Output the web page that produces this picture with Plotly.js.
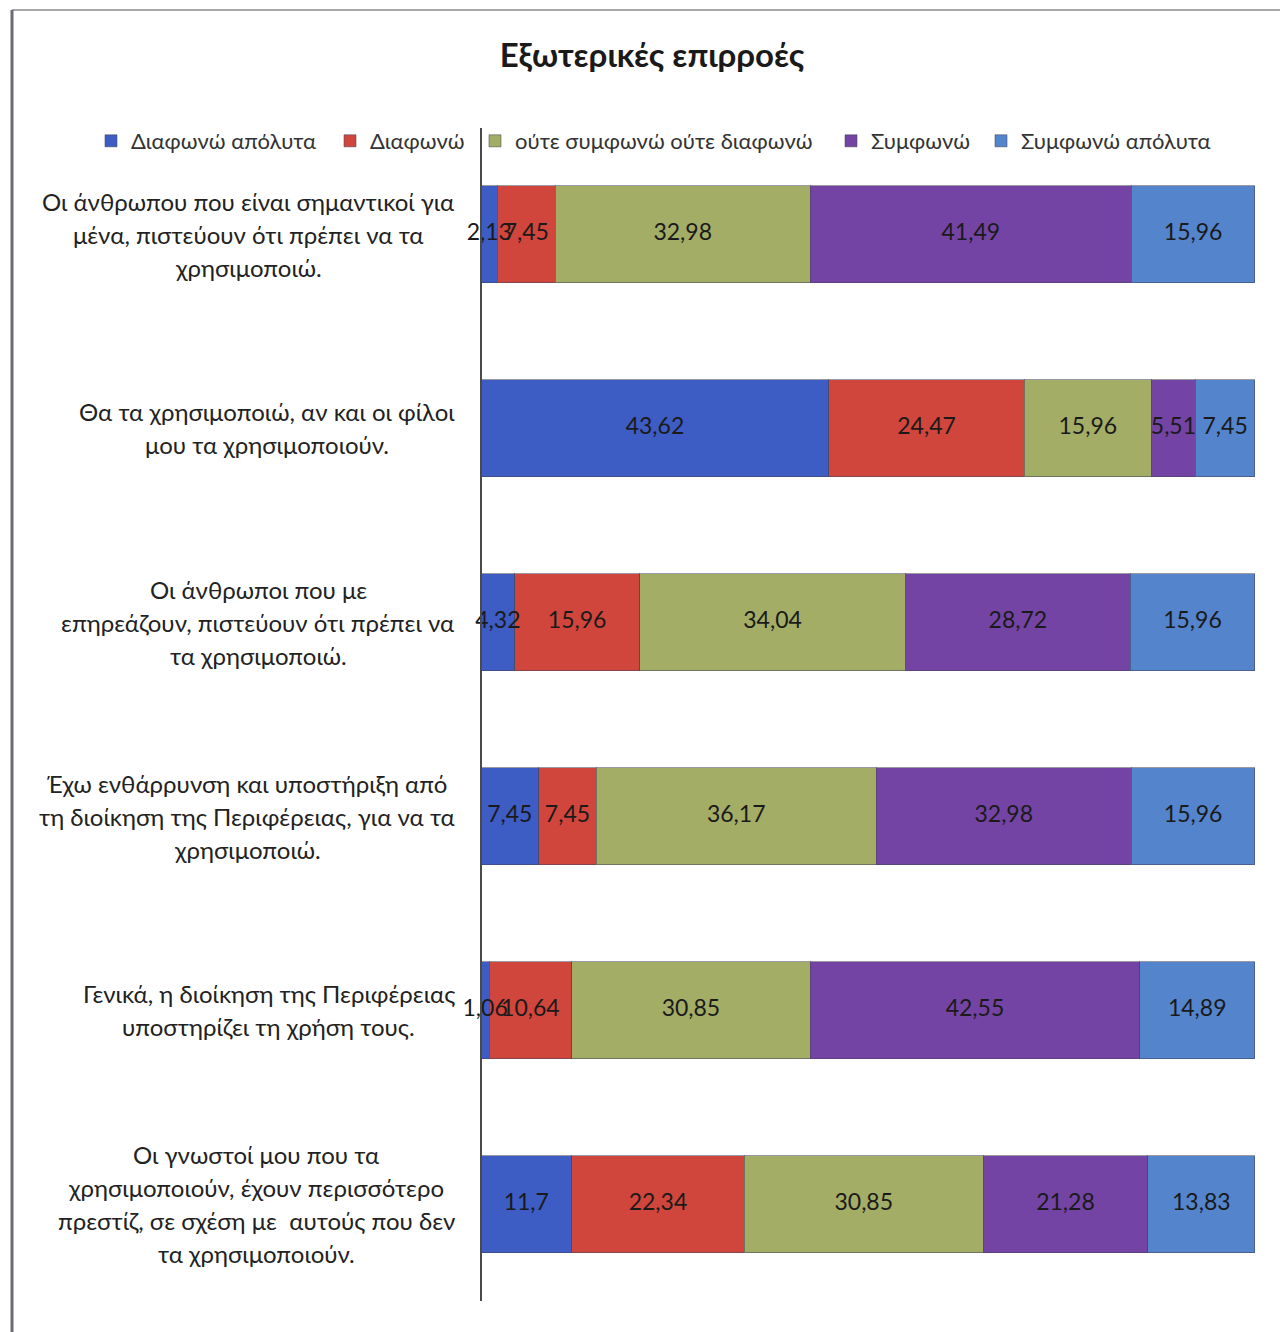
<!DOCTYPE html>
<html>
<head>
<meta charset="utf-8">
<script src="https://cdn.plot.ly/plotly-3.0.1.min.js"></script>
<style>html,body{margin:0;padding:0;background:#fff;}#chart{width:1280px;height:1332px;}</style>
</head>
<body>
<div id="chart"></div>
<script>
// ---- data ----
const categoryLines = [
  ["Οι άνθρωπου που είναι σημαντικοί για", "μένα, πιστεύουν ότι πρέπει να τα", "χρησιμοποιώ."],
  ["Θα τα χρησιμοποιώ, αν και οι φίλοι", "μου τα χρησιμοποιούν."],
  ["Οι άνθρωποι που με", "επηρεάζουν, πιστεύουν ότι πρέπει να", "τα χρησιμοποιώ."],
  ["Έχω ενθάρρυνση και υποστήριξη από", "τη διοίκηση της Περιφέρειας, για να τα", "χρησιμοποιώ."],
  ["Γενικά, η διοίκηση της Περιφέρειας", "υποστηρίζει τη χρήση τους."],
  ["Οι γνωστοί μου που τα", "χρησιμοποιούν, έχουν περισσότερο", "πρεστίζ, σε σχέση με  αυτούς που δεν", "τα χρησιμοποιούν."]
];
const categories = ["c1", "c2", "c3", "c4", "c5", "c6"];
const seriesNames = ["Διαφωνώ απόλυτα", "Διαφωνώ", "ούτε συμφωνώ ούτε διαφωνώ", "Συμφωνώ", "Συμφωνώ απόλυτα"];
const diafonoApolyta = [2.13, 43.62, 4.32, 7.45, 1.06, 11.7];
const diafono = [7.45, 24.47, 15.96, 7.45, 10.64, 22.34];
const oute = [32.98, 15.96, 34.04, 36.17, 30.85, 30.85];
const symfono = [41.49, 5.51, 28.72, 32.98, 42.55, 21.28];
const symfonoApolyta = [15.96, 7.45, 15.96, 15.96, 14.89, 13.83];
const chartTitle = "Εξωτερικές επιρροές";

// ---- styles ----
const colors = ["#3d5cc4", "#d0463c", "#a3ad66", "#7344a3", "#5384cc"];
const legendSymbolPx = [114, 353, 498, 854, 1004];   // legend entry positions (pixels)
const FONT = "Lato, 'Open Sans', sans-serif";
const W = 1280, H = 1332;
const L = 481, R = 25, T = 162, B = 31;
const plotW = W - L - R, plotH = H - T - B;
const CAT_PX = 194;               // pixel spacing between category centres
const yBottom = categories.length - 0.5;
const yTop = yBottom - plotH / CAT_PX;

const allSeries = [diafonoApolyta, diafono, oute, symfono, symfonoApolyta];
const fmt = v => String(v).replace('.', ',');
const legendIds = allSeries.map((_, i) => i === 0 ? 'legend' : 'legend' + (i + 1));

const traces = allSeries.map((vals, i) => ({
  type: 'bar',
  orientation: 'h',
  name: seriesNames[i],
  legend: legendIds[i],
  y: categories,
  x: vals,
  marker: {color: colors[i], line: {color: 'rgba(70,70,90,0.55)', width: 1}},
  hoverinfo: 'skip'
}));

// value labels drawn on top of all bars, at the centre of each (normalised) segment
const labelX = [], labelY = [], labelT = [];
categories.forEach((c, r) => {
  const total = allSeries.reduce((s, ser) => s + ser[r], 0);
  let acc = 0;
  allSeries.forEach(ser => {
    const v = ser[r];
    labelX.push((acc + v / 2) / total * 100);
    labelY.push(c);
    labelT.push(fmt(v));
    acc += v;
  });
});
traces.push({
  type: 'scatter', mode: 'text', x: labelX, y: labelY, text: labelT,
  textposition: 'middle center', cliponaxis: false, showlegend: false, hoverinfo: 'skip',
  textfont: {family: FONT, size: 23, color: '#1a1a1a'}
});

// category label annotations, one per line, centered within a right-aligned block
const LABEL_SIZE = 24;
const LINE_H = 33;
const ctx = document.createElement('canvas').getContext('2d');
ctx.font = LABEL_SIZE + "px Lato";
const rightEdgePx = 455;
const annotations = [];
categoryLines.forEach((lines, ci) => {
  const maxW = Math.max(...lines.map(s => ctx.measureText(s).width));
  const centerPx = rightEdgePx - maxW / 2;
  lines.forEach((line, j) => {
    annotations.push({
      xref: 'paper', yref: 'y',
      x: (centerPx - L) / plotW, y: categories[ci],
      xanchor: 'center', yanchor: 'middle',
      yshift: ((lines.length - 1) / 2 - j) * LINE_H,
      text: line, showarrow: false,
      font: {family: FONT, size: LABEL_SIZE, color: '#222'}
    });
  });
});

const layout = {
  width: W, height: H,
  margin: {l: L, r: R, t: T, b: B, pad: 0},
  paper_bgcolor: '#ffffff',
  plot_bgcolor: '#ffffff',
  barmode: 'stack',
  barnorm: 'percent',
  bargap: 0.5,
  title: {text: '<b>' + chartTitle + '</b>', font: {family: FONT, size: 33, color: '#1a1a1a'},
          x: 652 / W, xanchor: 'center', y: 1 - 55 / H, yanchor: 'middle'},
  showlegend: true,
  xaxis: {range: [0, 100.02], showgrid: false, zeroline: false, showticklabels: false, ticks: '', showline: false, fixedrange: true},
  yaxis: {range: [yBottom, yTop], showgrid: false, zeroline: false, showticklabels: false, ticks: '',
          showline: false, fixedrange: true},
  annotations: annotations,
  shapes: [
    {type: 'line', xref: 'paper', yref: 'paper', x0: (12 - L) / plotW, x1: (1280 - L) / plotW,
     y0: (H - B - 10) / plotH, y1: (H - B - 10) / plotH, line: {color: '#a8a8a8', width: 2}},
    {type: 'line', xref: 'paper', yref: 'paper', x0: (12 - L) / plotW, x1: (12 - L) / plotW,
     y0: (H - B - 10) / plotH, y1: (H - B - 1332) / plotH, line: {color: '#6a6a72', width: 3}},
    {type: 'line', xref: 'paper', yref: 'paper', x0: 0, x1: 0,
     y0: (H - B - 128) / plotH, y1: 0, line: {color: '#4a4a4a', width: 2}}
  ]
};
legendIds.forEach((id, i) => {
  layout[id] = {orientation: 'h', xref: 'paper', yref: 'paper', x: (legendSymbolPx[i] - 23 - L) / plotW,
    xanchor: 'left', y: 1, yanchor: 'bottom',
    font: {family: FONT, size: 22, color: '#333'}, bgcolor: 'rgba(255,255,255,0)', itemwidth: 30};
});

Plotly.newPlot('chart', traces, layout, {displayModeBar: false, staticPlot: true});
</script>
</body>
</html>
